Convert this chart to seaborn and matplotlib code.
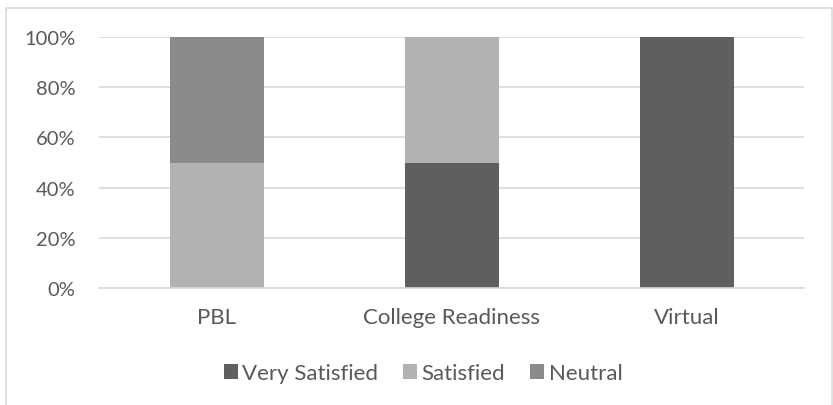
import matplotlib
matplotlib.use("Agg")
import matplotlib.pyplot as plt
from matplotlib.patches import Rectangle, Patch
from matplotlib.ticker import PercentFormatter
import seaborn as sns

# Program satisfaction shares (percent of respondents)
programs = ["PBL", "College Readiness", "Virtual"]
very_satisfied = [0, 50, 100]
satisfied = [50, 50, 0]
neutral = [50, 0, 0]

series_names = ["Very Satisfied", "Satisfied", "Neutral"]
series_colors = ["#5f5f5f", "#b2b2b2", "#8a8a8a"]
y_ticks = [0, 20, 40, 60, 80, 100]

sns.set_theme(style="white")
plt.rcParams["font.family"] = ["Lato", "DejaVu Sans"]

W, H = 833, 406
fig = plt.figure(figsize=(W / 100, H / 100), dpi=100)
ax = fig.add_axes([99 / W, (H - 289) / H, (804 - 99) / W, (289 - 38) / H])

bottoms = [0, 0, 0]
for name, vals, col in zip(series_names, [very_satisfied, satisfied, neutral], series_colors):
    sns.barplot(x=programs, y=vals, bottom=bottoms, color=col, width=0.4,
                saturation=1, ax=ax, linewidth=0)
    bottoms = [b + v for b, v in zip(bottoms, vals)]

text_col = "#595959"
grid_col = "#d9d9d9"
ax.set_ylim(0, 100)
ax.set_xlim(-0.5, 2.5)
ax.set_yticks(y_ticks)
ax.yaxis.set_major_formatter(PercentFormatter(decimals=0))
ax.yaxis.grid(True, color=grid_col, linewidth=1.2)
ax.set_axisbelow(True)
for s in ["top", "right", "left"]:
    ax.spines[s].set_visible(False)
ax.spines["bottom"].set_color(grid_col)
ax.spines["bottom"].set_linewidth(1.2)
ax.tick_params(axis="both", length=0, labelcolor=text_col)
ax.tick_params(axis="y", pad=17, labelsize=14.5)
ax.tick_params(axis="x", pad=14, labelsize=16)
ax.set_xlabel("")
ax.set_ylabel("")

handles = [Patch(facecolor=c, edgecolor="none", label=n) for n, c in zip(series_names, series_colors)]
fig.legend(handles=handles, loc="center", bbox_to_anchor=(423 / W, 32 / H), ncol=3,
           frameon=False, fontsize=16, labelcolor=text_col,
           handlelength=0.65, handleheight=0.65, handletextpad=0.2, columnspacing=1.1)

fig.patches.append(Rectangle((5.5 / W, -0.1), (832 - 5.5) / W, (H - 8.5) / H + 0.1,
                             transform=fig.transFigure, fill=False,
                             edgecolor=grid_col, linewidth=1.2))

fig.savefig("out.png", dpi=100, facecolor="white")
